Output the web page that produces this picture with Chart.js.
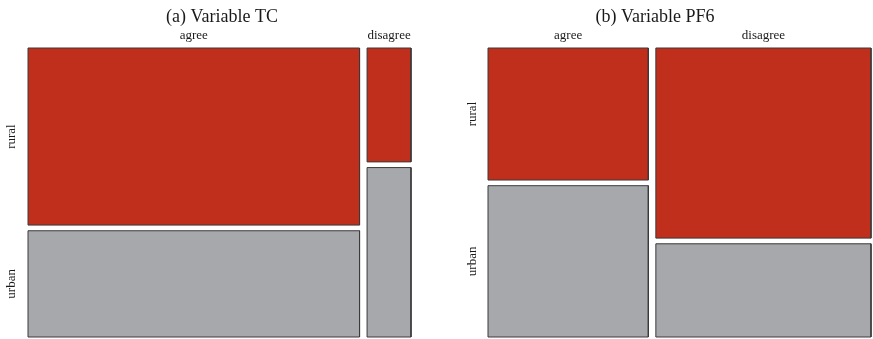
<!DOCTYPE html>
<html>
<head>
<meta charset="utf-8">
<script src="https://cdn.jsdelivr.net/npm/chart.js@4/dist/chart.umd.min.js"></script>
<style>
  html, body { margin: 0; padding: 0; background: #fff; }
  #wrap { position: relative; width: 873px; height: 339px; }
  .panel { position: absolute; top: 0; height: 339px; }
  #pa { left: 0; width: 444px; }
  #pb { left: 437px; width: 436px; }
</style>
</head>
<body>
<div id="wrap">
  <div class="panel" id="pa"><canvas id="ca"></canvas></div>
  <div class="panel" id="pb"><canvas id="cb"></canvas></div>
</div>
<script>
// Response categories (columns) and area of residence (rows)
const responses = ['agree', 'disagree'];
const areas = ['rural', 'urban'];

// Share of all respondents in each response column
const tcColumnShare = [0.883, 0.117];
const pf6ColumnShare = [0.427, 0.573];

// Share of rural respondents within each response column
const tcRuralShare = [0.625, 0.402];
const pf6RuralShare = [0.466, 0.671];

const panelTitles = ['(a) Variable TC', '(b) Variable PF6'];
const areaColors = ['#C02E1C', '#A7A8AC'];

const GAP = 0.02;          // spacing between tiles, in proportion units
const SERIF = 'Liberation Serif, Times New Roman, serif';
const TEXT = '#1a1a1a';

// Mosaic tiles: each column width is its share, split vertically by area
function buildTiles(colShare, ruralShare) {
  const tiles = [];
  let x = 0;
  colShare.forEach((w, c) => {
    const parts = [ruralShare[c], 1 - ruralShare[c]];
    let y = 0;
    parts.forEach((h, r) => {
      tiles.push({ c, r, x0: x, x1: x + w, y0: y, y1: y + h });
      y += h + GAP;
    });
    x += w + GAP;
  });
  return tiles;
}

function columnCenters(colShare) {
  const out = [];
  let x = 0;
  colShare.forEach(w => { out.push(x + w / 2); x += w + GAP; });
  return out;
}

function rowCenters(ruralShare) {
  const r = ruralShare[0];
  return [r / 2, r + GAP + (1 - r) / 2];
}

function makeMosaic(canvasId, title, colShare, ruralShare, leftWidth, rightWidth, labelPad) {
  const tiles = buildTiles(colShare, ruralShare);
  const xTicks = columnCenters(colShare);
  const yTicks = rowCenters(ruralShare);

  // each tile is a closed outline filled inside
  const datasets = tiles.map(t => ({
    label: responses[t.c] + ' / ' + areas[t.r],
    data: [
      { x: t.x0, y: t.y0 }, { x: t.x1, y: t.y0 },
      { x: t.x1, y: t.y1 }, { x: t.x0, y: t.y1 },
      { x: t.x0, y: t.y0 }
    ],
    showLine: true,
    fill: 'shape',
    tension: 0,
    backgroundColor: areaColors[t.r],
    borderColor: '#3a3a3a',
    borderWidth: 1,
    pointRadius: 0,
    pointHoverRadius: 0,
    clip: false
  }));

  return new Chart(document.getElementById(canvasId), {
    type: 'scatter',
    data: { datasets },
    options: {
      responsive: true,
      maintainAspectRatio: false,
      animation: false,
      events: [],
      layout: { padding: { top: 0, left: 0, right: 0, bottom: 2 } },
      plugins: {
        legend: { display: false },
        tooltip: { enabled: false },
        title: {
          display: true,
          text: title,
          color: TEXT,
          font: { family: SERIF, size: 18, weight: 'normal', lineHeight: 1.2 },
          padding: { top: 6, bottom: 0 }
        }
      },
      scales: {
        x: {
          type: 'linear',
          position: 'top',
          min: 0,
          max: 1 + GAP * (colShare.length - 1),
          grid: { display: false, drawTicks: false },
          border: { display: false },
          afterBuildTicks: s => { s.ticks = xTicks.map(v => ({ value: v })); },
          afterFit: s => {
            s.height = 20.4;
            s.paddingLeft = 0; s.paddingRight = 0;
          },
          ticks: {
            autoSkip: false,
            maxRotation: 0,
            padding: 5,
            color: TEXT,
            font: { family: SERIF, size: 13 },
            callback: (v, i) => responses[i]
          }
        },
        y: {
          type: 'linear',
          position: 'left',
          reverse: true,
          min: 0,
          max: 1 + GAP,
          grid: { display: false, drawTicks: false },
          border: { display: false },
          afterBuildTicks: s => { s.ticks = yTicks.map(v => ({ value: v })); },
          afterFit: s => {
            s.width = leftWidth;
            s.paddingTop = 0; s.paddingBottom = 0;
          },
          ticks: {
            autoSkip: false,
            minRotation: 90,
            maxRotation: 90,
            crossAlign: 'center',
            padding: labelPad,
            color: TEXT,
            font: { family: SERIF, size: 13 },
            callback: (v, i) => areas[i]
          }
        },
        // empty margin on the right of each panel
        yRight: {
          type: 'linear',
          position: 'right',
          grid: { display: false, drawTicks: false },
          border: { display: false },
          ticks: { display: false },
          afterFit: s => {
            s.width = rightWidth;
            s.paddingTop = 0; s.paddingBottom = 0;
          }
        }
      }
    }
  });
}

makeMosaic('ca', panelTitles[0], tcColumnShare, tcRuralShare, 28, 33, 1.2);
makeMosaic('cb', panelTitles[1], pf6ColumnShare, pf6RuralShare, 51, 2, 0.8);
</script>
</body>
</html>
